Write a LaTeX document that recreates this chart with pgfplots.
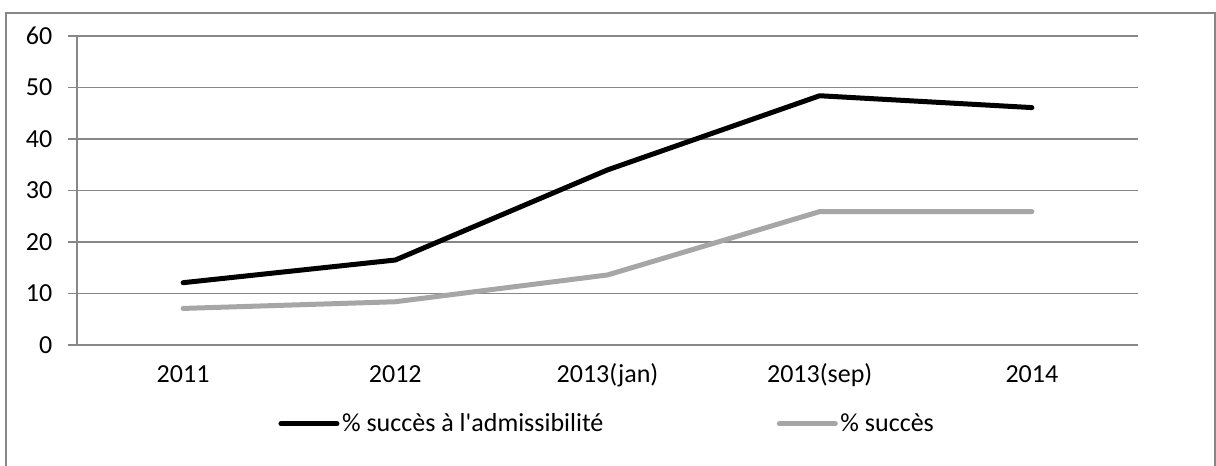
\documentclass[border=0pt]{standalone}
\usepackage{pgfplots}
\pgfplotsset{compat=1.18}
\usepackage{fontspec}
\setmainfont{Carlito}
\definecolor{gridgray}{HTML}{878787}
\definecolor{sergray}{HTML}{A6A6A6}
\begin{document}
\begin{tikzpicture}[x=1pt,y=1pt]
\clip (0,0) rectangle (912,348.75);
\fill[white] (0,0) rectangle (912,348.75);
\draw[gridgray, line width=0.9pt] (4.5,-10) -- (4.5,339) -- (911.25,339) -- (911.25,-10);
\begin{axis}[
  at={(57.75pt,90pt)}, anchor=south west,
  scale only axis, width=795.75pt, height=231.75pt,
  xmin=-0.5, xmax=4.5, ymin=0, ymax=60,
  xtick={0,...,4},
  xticklabels={2011,2012,2013(jan),2013(sep),2014},
  extra x ticks={-0.5,0.5,1.5,2.5,3.5,4.5},
  extra x tick labels={},
  extra x tick style={major tick length=6pt, tick style={gridgray, line width=0.9pt}, tick align=outside, grid=none},
  x tick style={draw=none},
  ytick={0,10,...,60},
  ymajorgrids, major grid style={gridgray, line width=0.9pt},
  y tick style={gridgray, line width=0.9pt}, major tick length=7pt, ytick align=outside,
  axis x line*=bottom, axis y line*=left,
  axis line style={gridgray, line width=0.9pt, -},
  tick label style={font=\fontsize{19.5}{23}\selectfont, text=black},
  /pgf/number format/assume math mode=true,
  xticklabel style={yshift=-12pt, text height=12.5pt, text depth=4pt},
  yticklabel style={xshift=-8pt},
  legend style={at={(0.5,-0.255)}, anchor=center, draw=none, fill=none,
    font=\fontsize{19.5}{23}\selectfont, legend columns=2,
    /tikz/every even column/.append style={column sep=128pt}},
  legend image code/.code={\draw[#1, line cap=round] (0pt,0pt) -- (42pt,0pt);},
  clip=false,
]
\addplot[black, line width=3.75pt, line cap=round, line join=round] coordinates {(0,12.1) (1,16.5) (2,34.0) (3,48.4) (4,46.1)};
\addlegendentry{\% succès à l\textquotesingle admissibilité}
\addplot[sergray, line width=3.75pt, line cap=round, line join=round] coordinates {(0,7.1) (1,8.4) (2,13.6) (3,25.9) (4,25.9)};
\addlegendentry{\% succès}
\end{axis}
\end{tikzpicture}
\end{document}
